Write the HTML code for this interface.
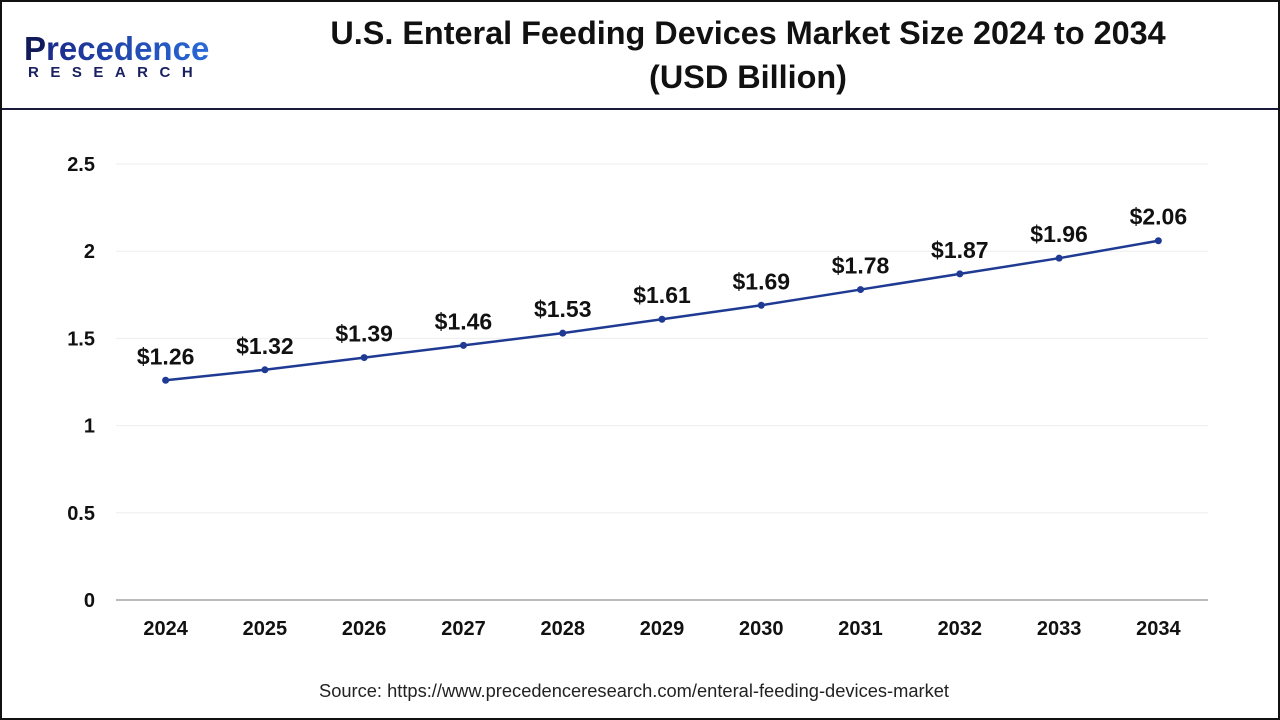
<!DOCTYPE html>
<html><head><meta charset="utf-8"><style>
html,body{margin:0;padding:0;background:#fff;}
#wrap{position:relative;width:1280px;height:720px;box-sizing:border-box;border:2px solid #111;overflow:hidden;font-family:"Liberation Sans",sans-serif;}
#hdr{position:absolute;left:0;top:0;width:1276px;height:106px;border-bottom:2px solid #1a1a3a;}
#title{position:absolute;left:246px;width:1000px;top:9px;text-align:center;font-weight:bold;font-size:32.4px;line-height:44px;color:#111;}
#logo1{position:absolute;left:22px;top:28px;font-size:33px;font-weight:bold;color:#1a2a8a;}
#logo2{position:absolute;left:26px;top:62px;font-size:15px;font-weight:bold;color:#1a2060;letter-spacing:11.5px;}
#src{position:absolute;left:-6px;width:1276px;top:678px;text-align:center;font-size:18.3px;color:#222;}
</style></head><body>
<div id="wrap">
<div id="hdr">
<div id="logo1"><span style="color:#111a5a">P</span><span style="background:linear-gradient(90deg,#1a2a8a,#2a6ad8);-webkit-background-clip:text;color:transparent">recedence</span></div>
<div id="logo2">RESEARCH</div>
<div id="title">U.S. Enteral Feeding Devices Market Size 2024 to 2034<br>(USD Billion)</div>
</div>
<svg id="chart" width="1276" height="716" style="position:absolute;left:0;top:0"></svg>
<div id="src">Source: https://www.precedenceresearch.com/enteral-feeding-devices-market</div>
</div>
<script>
const categories=["2024","2025","2026","2027","2028","2029","2030","2031","2032","2033","2034"];
const values=[1.26,1.32,1.39,1.46,1.53,1.61,1.69,1.78,1.87,1.96,2.06];
const valueLabels=["$1.26","$1.32","$1.39","$1.46","$1.53","$1.61","$1.69","$1.78","$1.87","$1.96","$2.06"];
const yTicks=[0,0.5,1,1.5,2,2.5];
const yTickLabels=["0","0.5","1","1.5","2","2.5"];
const ox=-2,oy=-2;
const x0=116,x1=1208,yBase=600,yTop=164,yMax=2.5;
function xs(i){return x0+(x1-x0)*(i+0.5)/categories.length+ox;}
function ys(v){return yBase-(yBase-yTop)*v/yMax+oy;}
const svg=document.getElementById('chart');const NS="http://www.w3.org/2000/svg";
function mk(t,a){const e=document.createElementNS(NS,t);for(const k in a)e.setAttribute(k,a[k]);svg.appendChild(e);return e;}
yTicks.forEach((v,i)=>{
 const g=mk('line',{x1:x0+ox,x2:x1+ox,y1:ys(v),y2:ys(v),stroke:v===0?'#bbb':'#eee','stroke-width':v===0?2:1});
 
 
 const t=mk('text',{x:95+ox,y:ys(v)+7,'text-anchor':'end','font-size':20,'font-weight':'bold',fill:'#111','font-family':'Liberation Sans, sans-serif'});
 t.textContent=yTickLabels[i];
 
 
});
categories.forEach((c,i)=>{
 const t=mk('text',{x:xs(i),y:635+oy,'text-anchor':'middle','font-size':20,'font-weight':'bold',fill:'#111','font-family':'Liberation Sans, sans-serif'});
 t.textContent=c;
 
 
});
const pl=mk('polyline',{points:values.map((v,i)=>xs(i)+','+ys(v)).join(' '),fill:'none',stroke:'#1f3a93','stroke-width':2.5});


values.forEach((v,i)=>{
 const c=mk('circle',{cx:xs(i),cy:ys(v),r:3.5,fill:'#1f3a93'});
 
 
 const t=mk('text',{x:xs(i),y:ys(v)-16,'text-anchor':'middle','font-size':23,'font-weight':'bold',fill:'#111','font-family':'Liberation Sans, sans-serif'});
 t.textContent=valueLabels[i];
 
 
});
</script>
</body></html>
